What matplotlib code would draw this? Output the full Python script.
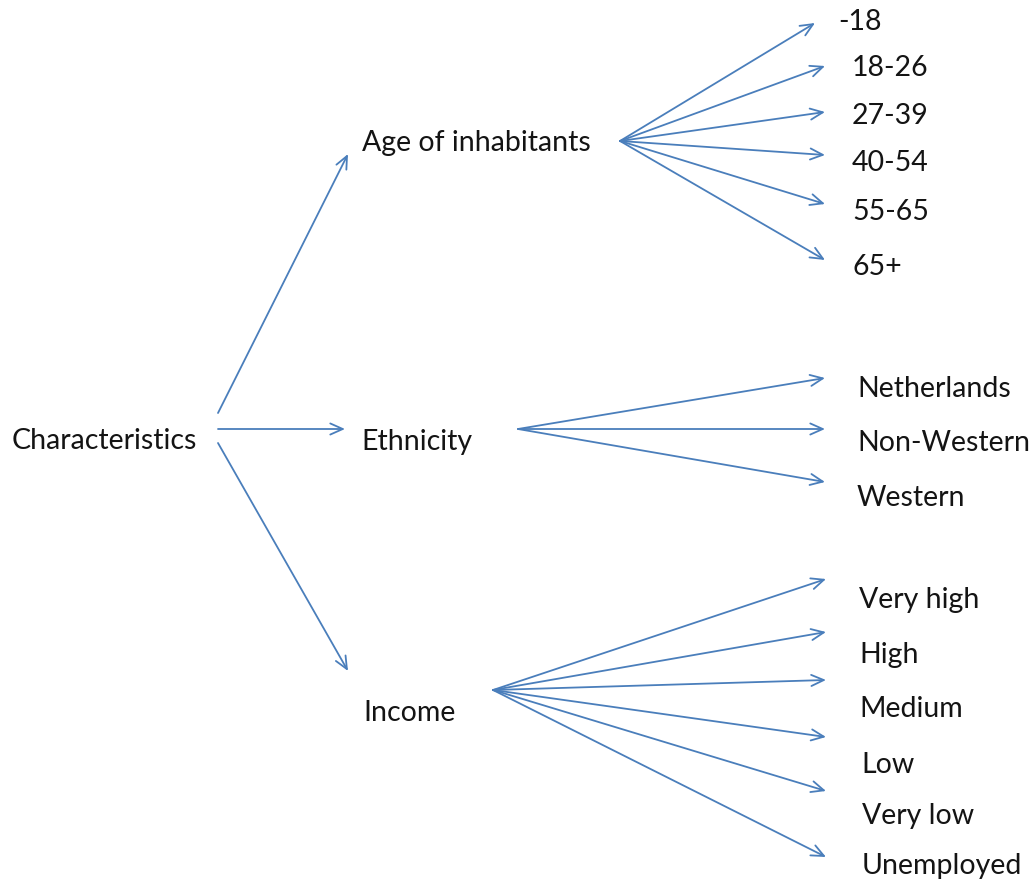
"""
tree diagram of neighbourhood characteristics
"""

import matplotlib.pyplot as plt

root = 'Characteristics'
groups = ['Age of inhabitants', 'Ethnicity', 'Income']
age_labels = ['-18', '18-26', '27-39', '40-54', '55-65', '65+']
ethnicity_labels = ['Netherlands', 'Non-Western', 'Western']
income_labels = ['Very high', 'High', 'Medium', 'Low', 'Very low', 'Unemployed']

# layout in pixel coordinates (y downwards)
root_pos = (12, 441)
root_starts = [(218, 413), (218, 429), (218, 443)]
group_ends = [(348, 154), (345, 429), (348, 671)]
group_text = [(362, 143), (361, 442), (363, 713)]
hubs = [(620, 141), (518, 429), (493, 690)]
leaf_ends = [
    [(815, 23), (825, 66), (825, 112), (825, 155), (825, 204), (825, 260)],
    [(825, 378), (825, 429), (825, 482)],
    [(826, 579), (826, 632), (826, 680), (826, 737), (826, 791), (826, 857)],
]
leaf_text = [
    [(838, 22), (852, 68), (852, 116), (852, 163), (852, 212), (852, 267)],
    [(857, 389), (857, 443), (857, 498)],
    [(859, 600), (859, 655), (859, 709), (861, 765), (862, 816), (862, 866)],
]

blue = '#4a7ebb'
txt = '#141414'
fs = 20.5

fig = plt.figure(figsize=(10.35, 8.81), dpi=100)
ax = fig.add_axes([0, 0, 1, 1])
ax.set_xlim(0, 1035)
ax.set_ylim(881, 0)
ax.axis('off')

def arrow(a, b):
    ax.annotate('', xy=b, xytext=a,
                arrowprops=dict(arrowstyle='->, head_length=0.9, head_width=0.4',
                                color=blue, lw=1.3, shrinkA=0, shrinkB=0))

ax.text(root_pos[0], root_pos[1], root, fontsize=fs, family='Lato', color=txt, va='center')

leaves = [age_labels, ethnicity_labels, income_labels]
for i, g in enumerate(groups):
    arrow(root_starts[i], group_ends[i])
    ax.text(group_text[i][0], group_text[i][1], g, fontsize=fs, family='Lato', color=txt, va='center')
    for j, lab in enumerate(leaves[i]):
        arrow(hubs[i], leaf_ends[i][j])
        ax.text(leaf_text[i][j][0], leaf_text[i][j][1], lab, fontsize=fs, family='Lato',
                color=txt, va='center')

plt.savefig('out.png', dpi=100)
